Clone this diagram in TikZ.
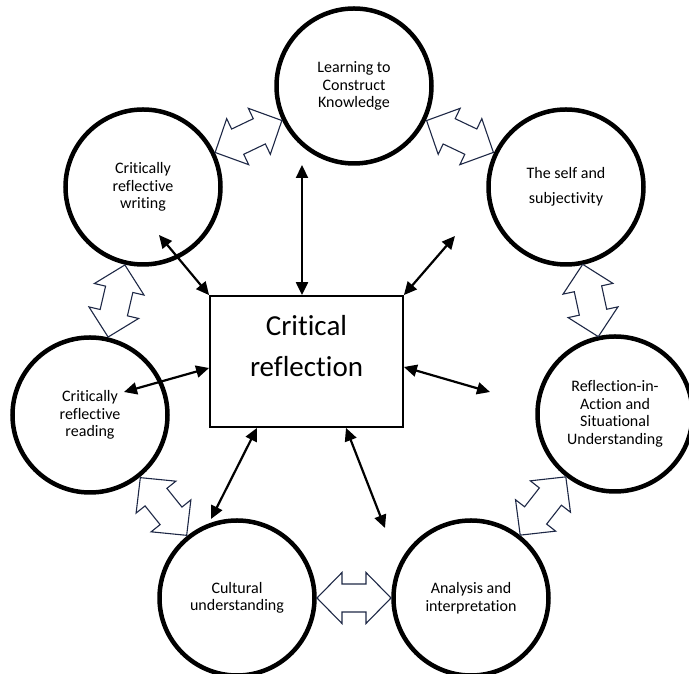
\documentclass[tikz,border=0pt]{standalone}
\usepackage{fontspec}
\setmainfont{Carlito}[Ligatures=NoCommon]
\usetikzlibrary{calc,arrows.meta}
\definecolor{outlinenavy}{RGB}{30,40,70}

% open double arrow laid between the centres of two stages
\newcommand{\hollowlink}[2]{%
  \pgfmathanglebetweenpoints{\pgfpointanchor{#1}{center}}{\pgfpointanchor{#2}{center}}%
  \let\linkangle\pgfmathresult
  \draw[hollow, shift={($(#1)!0.5!(#2)$)}, rotate=\linkangle]
    (-37,0) -- (-12,25.5) -- (-12,14) -- (12,14) -- (12,25.5) -- (37,0)
    -- (12,-25.5) -- (12,-14) -- (-12,-14) -- (-12,-25.5) -- cycle;%
}

\begin{document}
\begin{tikzpicture}[x=1pt, y=1pt,
    stage/.style={circle, draw, line width=4.5pt, fill=white, minimum size=155pt, inner sep=0pt, align=center, font=\fontsize{16}{17.5}\selectfont},
    core/.style={draw, line width=1.8pt, fill=white, minimum width=193pt, minimum height=131pt, inner sep=0pt},
    link/.style={<->, >={Triangle[length=13pt,width=12pt]}, line width=2.2pt},
    hollow/.style={draw=outlinenavy, fill=white, line width=1.1pt, line join=miter}]
    \useasboundingbox (0,0) rectangle (689,674);
    \clip (0,0) rectangle (689,674);

    % ring of stages
    \node[stage] (learn) at (354,588) {Learning to\\Construct\\Knowledge};
    \node[stage, font=\fontsize{16}{25}\selectfont] (self) at (566,487) {The self and\\subjectivity};
    \node[stage] (situ) at (615,260) {Reflection-in-\\Action and\\Situational\\Understanding};
    \node[stage] (anal) at (471,76) {Analysis and\\interpretation};
    \node[stage] (cult) at (237,76) {Cultural\\understanding};
    \node[stage] (read) at (90,259) {Critically\\reflective\\reading};
    \node[stage] (write) at (143,487) {Critically\\reflective\\writing};

    % centre box
    \node[core] (crit) at (306.5,312.5) {};
    \node[font=\fontsize{29}{41}\selectfont, align=center] (critlabel) at ([yshift=15pt]crit.center) {Critical\\reflection};

    % links between neighbouring stages
    \hollowlink{write}{learn}
    \hollowlink{learn}{self}
    \hollowlink{self}{situ}
    \hollowlink{situ}{anal}
    \hollowlink{cult}{anal}
    \hollowlink{read}{cult}
    \hollowlink{read}{write}

    % spokes from the centre box
    \coordinate (klearn) at (302,509);
    \coordinate (kwrite) at (159,439);
    \coordinate (kself) at (455,438);
    \coordinate (kread) at (124,282);
    \coordinate (ksitu) at (490,282);
    \coordinate (kcult) at (211,155);
    \coordinate (kanal) at (385,146);

    \draw[link] (klearn) -- (klearn |- crit.north);
    \draw[link] (kwrite) -- (crit.north west);
    \draw[link] (kself) -- (crit.north east);
    \draw[link] (kread) -- ([yshift=-6.5pt]crit.west);
    \draw[link] ([yshift=-5.5pt]crit.east) -- (ksitu);
    \draw[link] ([xshift=-49.5pt]crit.south) -- (kcult);
    \draw[link] ([xshift=39.5pt]crit.south) -- (kanal);
\end{tikzpicture}
\end{document}
